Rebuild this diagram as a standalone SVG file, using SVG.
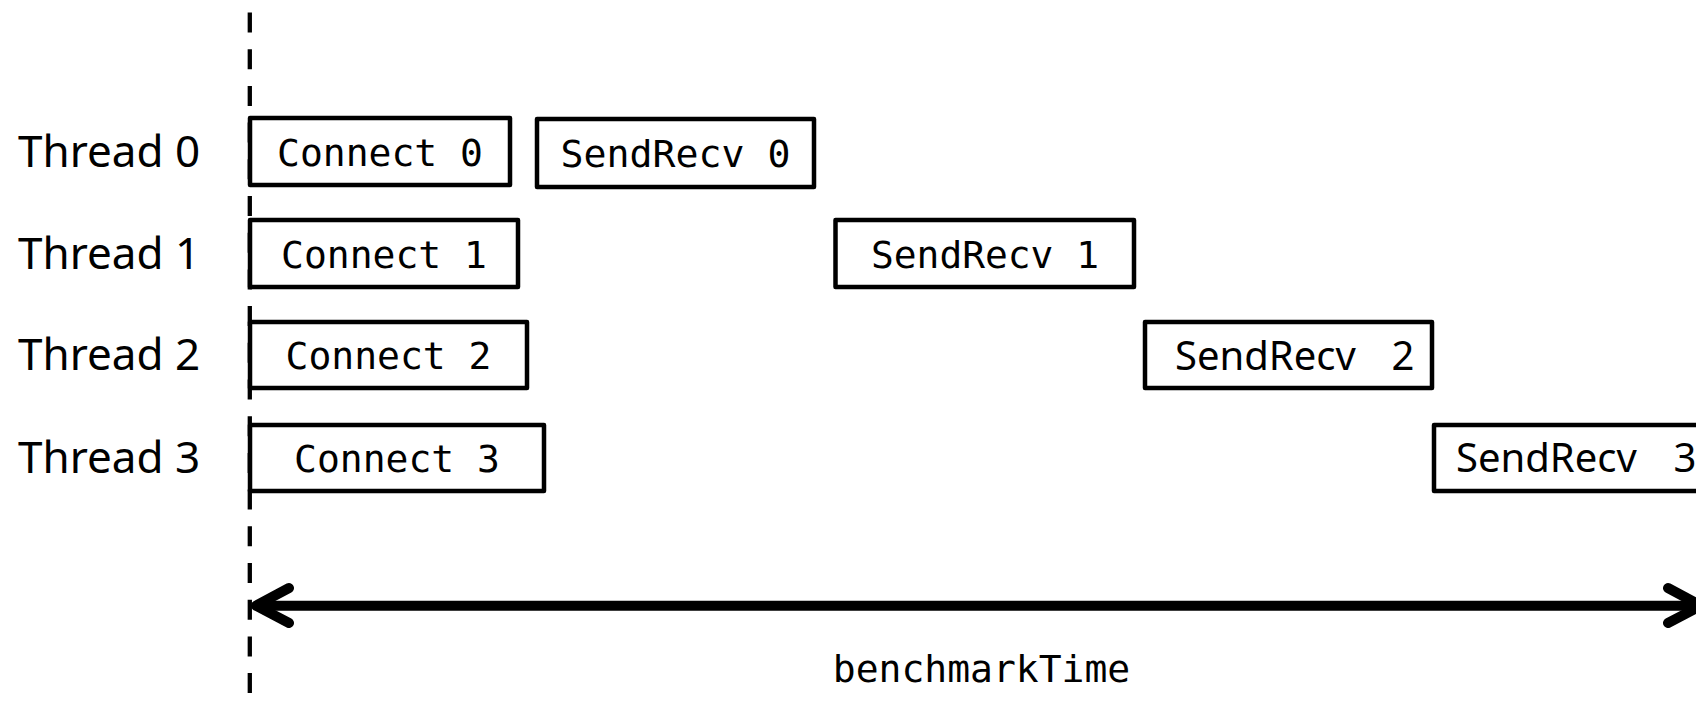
<svg xmlns="http://www.w3.org/2000/svg" width="1696" height="717" viewBox="0 0 1696 717">
  <style>
    .box { fill: #ffffff; stroke: #000000; stroke-width: 4.5; stroke-linejoin: round; }
    .mono { font-family: "DejaVu Sans Mono", "Liberation Mono", monospace; font-size: 38px; fill: #000000; text-anchor: middle; }
    .prop { font-family: "Noto Sans", "DejaVu Sans", sans-serif; font-size: 40px; fill: #000000; }
    .thread { font-family: "Noto Sans", "DejaVu Sans", sans-serif; font-size: 44px; fill: #000000; }
    .axis { stroke: #000000; stroke-width: 4.3; stroke-dasharray: 20 16.7; fill: none; }
    .arrow { stroke: #000000; stroke-width: 10; fill: none; stroke-linecap: round; stroke-linejoin: round; }
  </style>
  <rect x="0" y="0" width="1696" height="717" fill="#ffffff"/>

  <g id="connectors">
    <line class="axis" x1="249.8" y1="12.5" x2="249.8" y2="695"/>
    <line class="arrow" x1="258" y1="605.7" x2="1700" y2="605.7" stroke-linecap="butt"/>
    <polyline class="arrow" points="289,588 256,605.7 289,623"/>
    <polyline class="arrow" points="1668,588 1701,605.7 1668,623"/>
  </g>

  <g id="labels">
    <text class="thread" x="18" y="167">Thread 0</text>
    <text class="thread" x="18" y="269">Thread 1</text>
    <text class="thread" x="18" y="370">Thread 2</text>
    <text class="thread" x="18" y="473">Thread 3</text>
  </g>

  <g id="connect0">
    <rect class="box" x="250" y="118" width="260" height="67"/>
    <text class="mono" x="380" y="166">Connect 0</text>
  </g>
  <g id="sendrecv0">
    <rect class="box" x="537" y="119" width="277" height="68"/>
    <text class="mono" x="675.5" y="167" textLength="230" lengthAdjust="spacingAndGlyphs">SendRecv 0</text>
  </g>
  <g id="connect1">
    <rect class="box" x="250" y="220" width="268" height="67"/>
    <text class="mono" x="384" y="268">Connect 1</text>
  </g>
  <g id="sendrecv1">
    <rect class="box" x="835.5" y="220" width="298.5" height="67"/>
    <text class="mono" x="985" y="268" textLength="228" lengthAdjust="spacingAndGlyphs">SendRecv 1</text>
  </g>
  <g id="connect2">
    <rect class="box" x="250" y="322" width="277" height="66"/>
    <text class="mono" x="388.5" y="369">Connect 2</text>
  </g>
  <g id="sendrecv2">
    <rect class="box" x="1145" y="322" width="287" height="66"/>
    <text class="prop" x="1175" y="370">SendRecv<tspan x="1381"> 2</tspan></text>
  </g>
  <g id="connect3">
    <rect class="box" x="250" y="425" width="294" height="66"/>
    <text class="mono" x="397" y="472">Connect 3</text>
  </g>
  <g id="sendrecv3">
    <rect class="box" x="1434" y="425" width="300" height="66"/>
    <text class="prop" x="1456" y="472">SendRecv<tspan x="1663"> 3</tspan></text>
  </g>

  <g id="benchmarkTime">
    <text class="mono" x="981.5" y="682">benchmarkTime</text>
  </g>
</svg>
